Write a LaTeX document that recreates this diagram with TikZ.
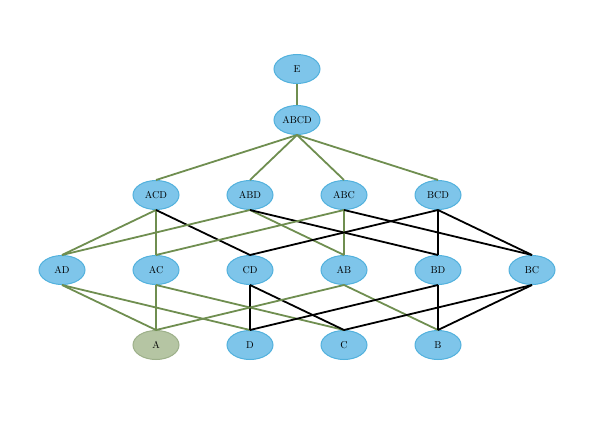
\documentclass[tikz,border=0pt]{standalone}
\usetikzlibrary{shapes.geometric}
\definecolor{setfill}{HTML}{7EC5EA}
\definecolor{setline}{HTML}{52B1DD}
\definecolor{basefill}{HTML}{B5C5A3}
\definecolor{baseline}{HTML}{9DB08A}
\definecolor{greenedge}{HTML}{6F8E50}
\tikzset{
  set/.style={ellipse, draw=setline, fill=setfill, line width=1pt,
    minimum width=46pt, minimum height=29pt, inner sep=0pt, font=\normalsize},
  base/.style={set, draw=baseline, fill=basefill},
  up/.style={greenedge, line width=1.8pt},
  cross/.style={black, line width=1.8pt}
}
\begin{document}
\begin{tikzpicture}[x=1pt, y=-1pt]
      \useasboundingbox (0,0) rectangle (596,420);
      \path
        (297,69) node[set] (E){E}
        (297,120) node[set] (ABCD){ABCD}
        (156,195) node[set] (ACD){ACD}
        (250,195) node[set] (ABD){ABD}
        (344,195) node[set] (ABC){ABC}
        (438,195) node[set] (BCD){BCD}
        (62,270) node[set] (AD){AD}
        (156,270) node[set] (AC){AC}
        (250,270) node[set] (CD){CD}
        (344,270) node[set] (AB){AB}
        (438,270) node[set] (BD){BD}
        (532,270) node[set] (BC){BC}
        (156,345) node[base] (A){A}
        (250,345) node[set] (D){D}
        (344,345) node[set] (C){C}
        (438,345) node[set] (B){B};
      \begin{scope}[-]
        \draw[up] (E.south) to (ABCD.north);
        \draw[up] (ABCD.south) to (ACD.north);
        \draw[up] (ABCD.south) to (ABD.north);
        \draw[up] (ABCD.south) to (ABC.north);
        \draw[up] (ABCD.south) to (BCD.north);
        \draw[up] (ACD.south) to (AD.north);
        \draw[up] (ACD.south) to (AC.north);
        \draw[cross] (ACD.south) to (CD.north);
        \draw[up] (ABD.south) to (AD.north);
        \draw[up] (ABD.south) to (AB.north);
        \draw[cross] (ABD.south) to (BD.north);
        \draw[up] (ABC.south) to (AC.north);
        \draw[up] (ABC.south) to (AB.north);
        \draw[cross] (ABC.south) to (BC.north);
        \draw[cross] (BCD.south) to (CD.north);
        \draw[cross] (BCD.south) to (BD.north);
        \draw[cross] (BCD.south) to (BC.north);
        \draw[up] (AD.south) to (A.north);
        \draw[up] (AD.south) to (D.north);
        \draw[up] (AC.south) to (A.north);
        \draw[up] (AC.south) to (C.north);
        \draw[cross] (CD.south) to (D.north);
        \draw[cross] (CD.south) to (C.north);
        \draw[up] (AB.south) to (A.north);
        \draw[up] (AB.south) to (B.north);
        \draw[cross] (BD.south) to (D.north);
        \draw[cross] (BD.south) to (B.north);
        \draw[cross] (BC.south) to (C.north);
        \draw[cross] (BC.south) to (B.north);
      \end{scope}
    \end{tikzpicture}
\end{document}
